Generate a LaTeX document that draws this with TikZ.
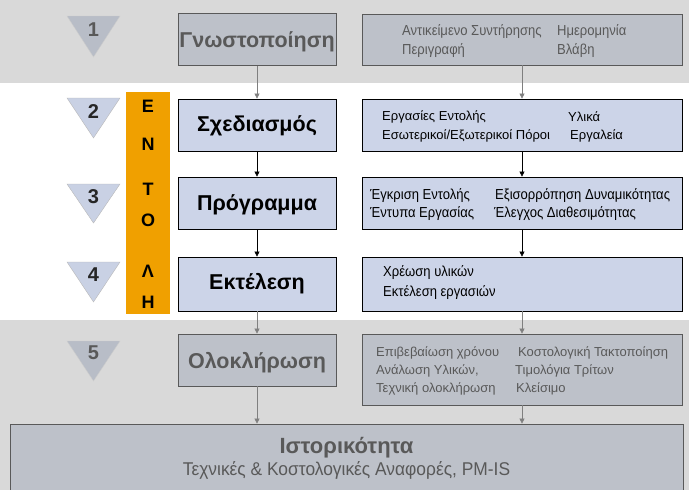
\documentclass[tikz,border=0pt]{standalone}
\usepackage{fontspec}
\setmainfont{Liberation Sans}
\newfontfamily\narrowfont[FakeStretch=0.9]{Liberation Sans}
\newfontfamily\subfont[FakeStretch=0.94]{Liberation Sans}
\usetikzlibrary{arrows.meta}
\definecolor{bandgray}{HTML}{D9D9D9}
\definecolor{gboxfill}{HTML}{BDC1C9}
\definecolor{bboxfill}{HTML}{CCD4E8}
\definecolor{gtri}{HTML}{B8BDC7}
\definecolor{btri}{HTML}{C9D1E4}
\definecolor{gtext}{HTML}{595959}
\definecolor{orangebar}{HTML}{F0A000}
\definecolor{gline}{HTML}{7F7F7F}
\begin{document}
\begin{tikzpicture}[x=1pt,y=-1pt,
  gbox/.style={draw=gtext,fill=gboxfill,line width=0.8pt,inner sep=0pt},
  bbox/.style={draw=black,fill=bboxfill,line width=0.8pt,inner sep=0pt},
  lbox/.style={minimum width=158pt,minimum height=52pt},
  rbox/.style={minimum width=320pt},
  title/.style={font=\fontsize{21.5}{24}\selectfont\bfseries,inner sep=0pt},
  num/.style={font=\fontsize{20}{22}\selectfont\bfseries,inner sep=0pt},
  letter/.style={font=\fontsize{18}{20}\selectfont\bfseries,inner sep=0pt},
  item/.style={anchor=west,inner sep=0pt,font=\fontsize{13}{15}\selectfont},
  nitem/.style={anchor=west,inner sep=0pt,font=\fontsize{14.5}{16}\narrowfont},
  btri/.style={fill=btri,draw=gray!55,line width=0.4pt},
  gtri/.style={fill=gtri,draw=gray!40,line width=0.4pt},
  barr/.style={draw=black,line width=0.6pt,-{Triangle[length=5pt,width=5pt]}},
  garr/.style={draw=gline,line width=0.6pt,-{Triangle[length=5pt,width=5pt]}}
]
\useasboundingbox (0,0) rectangle (689,490);
\clip (0,0) rectangle (689,490);
% bands
\fill[bandgray] (0,0) rectangle (689,83);
\fill[bandgray] (0,320) rectangle (689,490);

% triangles
\path[gtri] (67,16) -- (120,16) -- (93.5,57) -- cycle;
\path[btri] (67,98) -- (120,98) -- (93.5,138) -- cycle;
\path[btri] (67,184) -- (120,184) -- (93.5,223) -- cycle;
\path[btri] (67,262) -- (120,262) -- (93.5,302) -- cycle;
\path[gtri] (67,341) -- (120,341) -- (93.5,381) -- cycle;
\node[num,text=gtext] (n1) at (93.5,30) {1};
\node[num,text=black!85] (n2) at (93.5,112) {2};
\node[num,text=black!85] (n3) at (93.5,197) {3};
\node[num,text=black!85] (n4) at (93.5,275) {4};
\node[num,text=gtext] (n5) at (93.5,353) {5};

% orange bar
\fill[orangebar] (126,92) rectangle (170,314);
\node[letter] (l1) at (148,106) {Ε};
\node[letter] (l2) at (148,144.5) {Ν};
\node[letter] (l3) at (148,189) {Τ};
\node[letter] (l4) at (148,220) {Ο};
\node[letter] (l5) at (148,271) {Λ};
\node[letter] (l6) at (148,302) {Η};

% left boxes
\node[gbox,lbox] (b1) at (257,39.5) {};
\node[title,text=gtext] (t1) at (257,42) {Γνωστοποίηση};
\node[bbox,lbox] (b2) at (257,125) {};
\node[title] (t2) at (257,126) {Σχεδιασμός};
\node[bbox,lbox] (b3) at (257,203) {};
\node[title] (t3) at (257,205) {Πρόγραμμα};
\node[bbox,lbox,minimum height=54pt] (b4) at (257,284) {};
\node[title] (t4) at (257,284) {Εκτέλεση};
\node[gbox,lbox] (b5) at (257,360) {};
\node[title,text=gtext] (t5) at (257,363) {Ολοκλήρωση};

% right boxes
\node[gbox,rbox,minimum height=51pt] (r1) at (522,39.5) {};
\node[bbox,rbox,minimum height=52pt] (r2) at (522,125) {};
\node[bbox,rbox,minimum height=52pt] (r3) at (522,203) {};
\node[bbox,rbox,minimum height=54pt] (r4) at (522,284) {};
\node[gbox,rbox,minimum height=71pt] (r5) at (522,369.5) {};

% bottom box
\node[gbox,minimum width=673pt,minimum height=80pt] (hist) at (346.5,464) {};
\node[title,text=gtext,font=\fontsize{22}{24}\selectfont\bfseries] (ht) at (346.5,448) {Ιστορικότητα};
\node[inner sep=0pt,text=gtext,font=\fontsize{18.5}{20}\subfont] (hs) at (346.5,470) {Τεχνικές \& Κοστολογικές Αναφορές, PM-IS};

% right texts
\node[nitem,text=gtext] (a1) at (402,32) {Αντικείμενο Συντήρησης};
\node[nitem,text=gtext] (a2) at (402,51) {Περιγραφή};
\node[nitem,text=gtext] (a3) at (557,32) {Ημερομηνία};
\node[nitem,text=gtext] (a4) at (557,51) {Βλάβη};

\node[item] (c1) at (382,117) {Εργασίες Εντολής};
\node[item] (c2) at (382,136) {Εσωτερικοί/Εξωτερικοί Πόροι};
\node[item] (c3) at (568,117) {Υλικά};
\node[item] (c4) at (570,136) {Εργαλεία};

\node[nitem] (d1) at (370,196) {Έγκριση Εντολής};
\node[nitem] (d2) at (370,214) {Έντυπα Εργασίας};
\node[nitem] (d3) at (495,196) {Εξισορρόπηση Δυναμικότητας};
\node[nitem] (d4) at (494,214) {Έλεγχος Διαθεσιμότητας};

\node[nitem] (e1) at (383,273) {Χρέωση υλικών};
\node[nitem] (e2) at (383,293) {Εκτέλεση εργασιών};

\node[item,text=gtext] (f1) at (376,353) {Επιβεβαίωση χρόνου};
\node[item,text=gtext] (f2) at (376,371) {Ανάλωση Υλικών,};
\node[item,text=gtext] (f3) at (376,389) {Τεχνική ολοκλήρωση};
\node[item,text=gtext] (f4) at (518,353) {Κοστολογική Τακτοποίηση};
\node[item,text=gtext] (f5) at (515,371) {Τιμολόγια Τρίτων};
\node[item,text=gtext] (f6) at (516,389) {Κλείσιμο};

% connectors
\draw[garr] (b1) -- (b2);
\draw[barr] (b2) -- (b3);
\draw[barr] (b3) -- (b4);
\draw[garr] (b4) -- (b5);
\draw[garr] (b5.south) -- (b5.south |- hist.north);
\draw[garr] (r1) -- (r2);
\draw[barr] (r2) -- (r3);
\draw[barr] (r3) -- (r4);
\draw[garr] (r4) -- (r5);
\draw[garr] (r5.south) -- (r5.south |- hist.north);
\end{tikzpicture}
\end{document}
